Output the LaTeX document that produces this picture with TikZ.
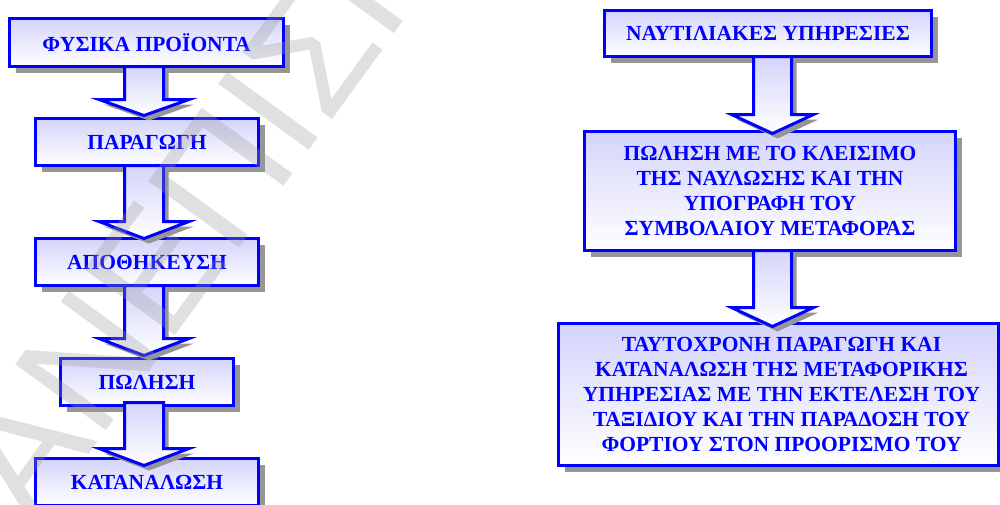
\documentclass[tikz,border=0pt]{standalone}
\usepackage{fontspec}
\setmainfont{Liberation Serif}
\newfontfamily\wmfont{Liberation Sans}
\usetikzlibrary{calc,shadows}
\definecolor{boxblue}{RGB}{0,0,255}
\definecolor{lav}{RGB}{212,212,250}
\definecolor{shad}{RGB}{150,150,150}
\tikzset{
  box/.style={rectangle, draw=boxblue, line width=3pt, top color=lav, bottom color=white,
    inner sep=2pt, outer sep=0pt, text=boxblue, align=center,
    font=\fontsize{21.5}{24.8}\selectfont\bfseries,
    drop shadow={shadow xshift=6pt, shadow yshift=-6pt, fill=shad, opacity=1}},
  arrowsty/.style={draw=boxblue, line width=3pt, top color=lav, bottom color=white},
  wmark/.style={rotate=54, anchor=base west, inner sep=0pt, outer sep=0pt,
    text=black!40, text opacity=0.3, font=\fontsize{163}{163}\selectfont\wmfont},
}
% #1 start, #2 tip, #3 shaft half width, #4 head half width, #5 head length
\newcommand{\blockarrow}[5]{%
  \fill[shad] let \p1=(#1), \p2=(#2) in
    (\x1-#3+5pt,\y1-5pt) -- (\x1-#3+5pt,\y2+#5-5pt) -- (\x1-#4+5pt,\y2+#5-5pt) --
    (\x1+5pt,\y2-5pt) -- (\x1+#4+5pt,\y2+#5-5pt) -- (\x1+#3+5pt,\y2+#5-5pt) --
    (\x1+#3+5pt,\y1-5pt) -- cycle;
  \draw[arrowsty] let \p1=(#1), \p2=(#2) in
    (\x1-#3,\y1) -- (\x1-#3,\y2+#5) -- (\x1-#4,\y2+#5) -- (\x1,\y2) --
    (\x1+#4,\y2+#5) -- (\x1+#3,\y2+#5) -- (\x1+#3,\y1) -- cycle;
}
\begin{document}
\begin{tikzpicture}[x=1pt,y=-1pt]
\useasboundingbox (0,0) rectangle (1000,504);
\clip (0,0) rectangle (1000,504);
% left column
\node[box, minimum width=274pt, minimum height=48pt] (b1) at (146.5,42.5) {ΦΥΣΙΚΑ ΠΡΟΪΟΝΤΑ};
\node[box, minimum width=223pt, minimum height=47pt] (b2) at (147,142) {ΠΑΡΑΓΩΓΗ};
\node[box, minimum width=223pt, minimum height=47pt] (b3) at (147,262) {ΑΠΟΘΗΚΕΥΣΗ};
\node[box, minimum width=173pt, minimum height=47pt] (b4) at (147,382) {ΠΩΛΗΣΗ};
\node[box, minimum width=223pt, minimum height=47pt] (b5) at (147,482) {ΚΑΤΑΝΑΛΩΣΗ};
% right column
\node[box, minimum width=327pt, minimum height=46pt] (r1) at (768,33.5) {ΝΑΥΤΙΛΙΑΚΕΣ ΥΠΗΡΕΣΙΕΣ};
\node[box, minimum width=371pt, minimum height=119pt] (r2) at (770,191)
  {ΠΩΛΗΣΗ ΜΕ ΤΟ ΚΛΕΙΣΙΜΟ\\ΤΗΣ ΝΑΥΛΩΣΗΣ ΚΑΙ ΤΗΝ\\ΥΠΟΓΡΑΦΗ ΤΟΥ\\ΣΥΜΒΟΛΑΙΟΥ ΜΕΤΑΦΟΡΑΣ};
\node[box, minimum width=440pt, minimum height=142pt] (r3) at (778.5,394.5)
  {\hspace*{6pt}ΤΑΥΤΟΧΡΟΝΗ ΠΑΡΑΓΩΓΗ ΚΑΙ\\\hspace*{6pt}ΚΑΤΑΝΑΛΩΣΗ ΤΗΣ ΜΕΤΑΦΟΡΙΚΗΣ\\\hspace*{6pt}ΥΠΗΡΕΣΙΑΣ ΜΕ ΤΗΝ ΕΚΤΕΛΕΣΗ ΤΟΥ\\\hspace*{6pt}ΤΑΞΙΔΙΟΥ ΚΑΙ ΤΗΝ ΠΑΡΑΔΟΣΗ ΤΟΥ\\\hspace*{6pt}ΦΟΡΤΙΟΥ ΣΤΟΝ ΠΡΟΟΡΙΣΜΟ ΤΟΥ};
% arrow end points
\coordinate (a1s) at ($(b1.south)+(-2.5,0)$);
\coordinate (a1t) at ($(b2.north)+(-3,-3)$);
\coordinate (a2s) at ($(b2.south)+(-3,0)$);
\coordinate (a2t) at ($(b3.north)+(-3,0)$);
\coordinate (a3s) at ($(b3.south)+(-3,0)$);
\coordinate (a3t) at ($(b4.north)+(-3,-3)$);
\coordinate (a4s) at ($(b4.south)+(-3,-3)$);
\coordinate (a4t) at ($(b5.north)+(-3,7)$);
\coordinate (r1s) at ($(r1.south)+(4.5,0)$);
\coordinate (r1t) at ($(r2.north)+(2.5,2)$);
\coordinate (r2s) at ($(r2.south)+(2.5,0)$);
\coordinate (r2t) at ($(r3.north)+(-6,3)$);
\blockarrow{a1s}{a1t}{19.5pt}{45pt}{16pt}
\blockarrow{a2s}{a2t}{19.5pt}{45pt}{17pt}
\blockarrow{a3s}{a3t}{19.5pt}{45pt}{17pt}
\blockarrow{a4s}{a4t}{19.5pt}{45pt}{17pt}
\blockarrow{r1s}{r1t}{19pt}{41pt}{19pt}
\blockarrow{r2s}{r2t}{19pt}{41pt}{19pt}
% watermark
\node[wmark] (wm) at (34.8,529.3) {ΑΝΕΠΙΣΗΜΟ};
\end{tikzpicture}
\end{document}
